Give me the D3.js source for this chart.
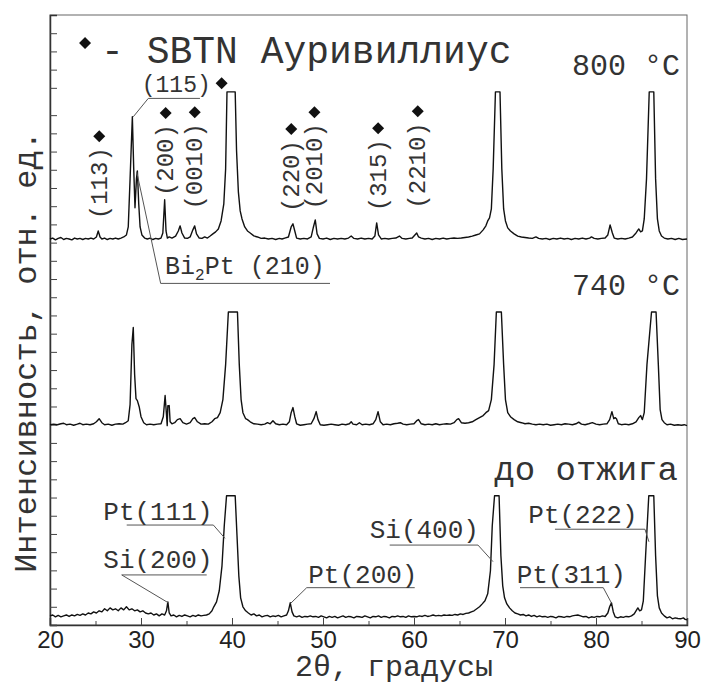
<!DOCTYPE html>
<html>
<head>
<meta charset="utf-8">
<title>XRD SBTN</title>
<script src="https://d3js.org/d3.v7.min.js"></script>
<style>
  body { margin: 0; background: #fff; }
  svg text { font-family: "Liberation Mono", "DejaVu Sans Mono", monospace; fill: #333; }
  svg .tick-label { font-family: "Liberation Sans", Arial, sans-serif; }
</style>
</head>
<body>
<svg width="706" height="684"></svg>
<script>
// ---- data (2θ in degrees, intensity in arbitrary units, relative to each curve's own baseline)
var thetaMajor = [20, 30, 40, 50, 60, 70, 80, 90];
var thetaMinor = [25, 35, 45, 55, 65, 75, 85];
var intensityTicks = d3.range(0, 2801, 100).concat([2950, 3050, 3150, 3250]);

var curveOffsets = [50, 1100, 2120];   // as-deposited, 740 °C, 800 °C

var asDeposited = [[20.0,0],[20.3,5],[20.6,-5],[20.9,3],[21.2,-5],[21.5,0],[21.8,5],[22.1,-3],[22.4,5],[22.7,0],[23.0,8],[23.3,3],[23.6,11],[23.9,5],[24.2,16],[24.5,11],[24.8,22],[25.1,16],[25.4,28],[25.7,22],[26.0,39],[26.3,28],[26.6,44],[26.9,33],[27.2,39],[27.5,28],[27.8,44],[28.1,33],[28.4,50],[28.7,33],[29.0,39],[29.3,28],[29.6,33],[29.9,22],[30.2,28],[30.5,16],[30.8,11],[31.1,16],[31.4,5],[31.7,11],[32.0,0],[32.3,11],[32.6,5],[32.8,28],[32.95,77],[33.1,16],[33.3,0],[33.6,5],[33.9,-5],[34.2,3],[34.5,-3],[34.8,5],[35.1,0],[35.4,-5],[35.7,3],[36.0,-3],[36.3,5],[36.6,0],[36.9,3],[37.2,5],[37.5,11],[37.8,28],[38.0,50],[38.3,77],[38.6,138],[38.9,275],[39.15,495],[39.4,660],[40.35,660],[40.55,440],[40.75,220],[40.95,99],[41.2,50],[41.5,28],[41.8,16],[42.1,5],[42.4,11],[42.7,0],[43.0,5],[43.3,-5],[43.6,0],[43.9,3],[44.2,-5],[44.5,0],[44.8,-3],[45.1,3],[45.4,-5],[45.7,0],[46.0,5],[46.2,28],[46.4,72],[46.6,22],[46.8,0],[47.1,-5],[47.4,0],[47.7,-8],[48.0,-3],[48.3,-5],[48.6,0],[48.9,-5],[49.2,-3],[49.5,-8],[49.8,0],[50.1,-5],[50.4,-11],[50.7,-3],[51.0,-8],[51.3,-3],[51.6,-11],[51.9,-5],[52.2,0],[52.5,-8],[52.8,-3],[53.1,-5],[53.4,-11],[53.7,-3],[54.0,-5],[54.3,-8],[54.6,0],[54.9,-5],[55.2,-11],[55.5,-3],[55.8,-5],[56.1,0],[56.4,-8],[56.7,-3],[57.0,-5],[57.3,-11],[57.6,-3],[57.9,-5],[58.2,0],[58.5,-5],[58.8,-3],[59.1,-8],[59.4,0],[59.7,-5],[60.0,-3],[60.3,-5],[60.6,0],[60.9,-3],[61.2,3],[61.5,-3],[61.8,0],[62.1,5],[62.4,0],[62.7,3],[63.0,0],[63.3,5],[63.6,3],[63.9,5],[64.2,3],[64.5,8],[64.8,5],[65.1,11],[65.4,8],[65.7,14],[66.0,16],[66.3,22],[66.6,28],[66.9,39],[67.2,50],[67.5,66],[67.8,83],[68.1,121],[68.4,248],[68.6,495],[68.85,660],[69.35,660],[69.55,330],[69.75,165],[69.95,99],[70.2,66],[70.5,44],[70.8,28],[71.1,16],[71.4,11],[71.7,5],[72.0,8],[72.3,0],[72.6,5],[72.9,-3],[73.2,3],[73.5,-5],[73.8,0],[74.1,-5],[74.4,-3],[74.7,-8],[75.0,-3],[75.3,-5],[75.6,-11],[75.9,-3],[76.2,-5],[76.5,-8],[76.8,-3],[77.1,-5],[77.4,0],[77.7,3],[78.0,5],[78.3,0],[78.6,-5],[78.9,-3],[79.2,-11],[79.5,-5],[79.8,-8],[80.1,-3],[80.4,-5],[80.7,0],[81.0,-3],[81.3,16],[81.5,50],[81.7,72],[81.9,22],[82.1,-5],[82.4,-11],[82.7,-5],[83.0,-8],[83.3,-3],[83.6,-5],[83.9,0],[84.2,11],[84.4,28],[84.6,44],[84.8,28],[85.0,33],[85.2,83],[85.45,330],[85.8,660],[86.35,660],[86.55,330],[86.75,110],[86.95,44],[87.2,16],[87.5,0],[87.8,-11],[88.1,-5],[88.4,-16],[88.7,-11],[89.0,-14],[89.3,-16],[89.6,-11],[89.8,-19],[90.0,-22]];

var annealed740 = [[20.0,0],[20.4,3],[20.8,0],[21.2,5],[21.5,8],[21.8,0],[22.2,3],[22.6,-3],[23.0,3],[23.3,8],[23.6,0],[24.0,3],[24.4,0],[24.8,5],[25.1,16],[25.4,33],[25.7,11],[26.0,0],[26.4,3],[26.8,-3],[27.2,3],[27.6,5],[28.0,3],[28.3,11],[28.6,22],[28.8,110],[29.0,440],[29.15,534],[29.3,275],[29.45,143],[29.6,132],[29.8,99],[30.0,44],[30.3,11],[30.6,0],[31.0,3],[31.4,0],[31.8,3],[32.2,5],[32.45,44],[32.65,160],[32.8,55],[32.88,-5],[32.95,105],[33.05,100],[33.1,105],[33.2,16],[33.4,5],[33.7,11],[34.0,28],[34.3,33],[34.6,11],[35.0,3],[35.4,11],[35.7,33],[35.9,39],[36.2,16],[36.6,3],[37.0,5],[37.4,3],[37.8,16],[38.1,33],[38.4,39],[38.7,66],[39.0,138],[39.3,330],[39.6,619],[40.6,619],[40.8,330],[41.0,138],[41.2,66],[41.5,33],[41.7,28],[42.0,16],[42.4,5],[42.8,3],[43.2,0],[43.6,3],[43.9,11],[44.2,5],[44.5,22],[44.8,5],[45.2,0],[45.6,3],[46.0,0],[46.3,16],[46.5,66],[46.7,94],[46.9,44],[47.1,5],[47.5,-3],[47.9,0],[48.3,3],[48.7,5],[49.0,33],[49.25,72],[49.45,28],[49.7,0],[50.1,-3],[50.5,0],[50.9,3],[51.3,0],[51.7,-3],[52.1,3],[52.5,0],[52.9,5],[53.1,16],[53.3,3],[53.7,0],[54.0,11],[54.3,0],[54.7,3],[55.1,0],[55.5,5],[55.8,28],[56.05,72],[56.3,16],[56.6,0],[57.0,3],[57.4,0],[57.8,5],[58.2,8],[58.5,11],[58.8,3],[59.2,0],[59.6,3],[60.0,5],[60.3,22],[60.5,28],[60.8,5],[61.2,0],[61.6,3],[62.0,0],[62.4,5],[62.8,0],[63.2,3],[63.6,5],[64.0,3],[64.4,11],[64.7,28],[64.9,33],[65.2,11],[65.6,8],[66.0,11],[66.4,16],[66.8,28],[67.2,39],[67.6,50],[67.9,66],[68.2,77],[68.5,138],[68.8,330],[69.05,619],[69.6,619],[69.85,330],[70.05,138],[70.3,66],[70.6,44],[71.0,28],[71.4,16],[71.8,11],[72.2,5],[72.6,8],[73.0,3],[73.4,0],[73.8,3],[74.2,0],[74.6,3],[75.0,-3],[75.4,0],[75.8,3],[76.2,0],[76.6,5],[77.0,3],[77.4,0],[77.8,5],[78.1,14],[78.4,3],[78.8,0],[79.2,5],[79.6,11],[80.0,3],[80.4,0],[80.8,3],[81.2,5],[81.5,28],[81.75,72],[81.95,33],[82.1,39],[82.25,33],[82.45,5],[82.8,0],[83.2,3],[83.6,0],[84.0,5],[84.4,16],[84.7,39],[84.9,50],[85.1,28],[85.3,66],[85.6,330],[86.1,619],[86.6,619],[86.85,330],[87.05,83],[87.25,28],[87.5,11],[87.8,0],[88.2,3],[88.6,-3],[89.0,0],[89.4,-3],[89.7,0],[90.0,-5]];

var annealed800 = [[20.0,0],[20.3,5],[20.6,-5],[20.9,3],[21.2,8],[21.5,-3],[21.8,3],[22.1,0],[22.4,-5],[22.7,5],[23.0,0],[23.3,3],[23.6,-3],[23.9,3],[24.2,0],[24.5,5],[24.8,0],[25.1,11],[25.3,44],[25.5,11],[25.7,0],[26.0,5],[26.3,-3],[26.6,3],[26.9,0],[27.2,5],[27.5,0],[27.8,5],[28.1,11],[28.4,22],[28.6,66],[28.8,330],[29.05,671],[29.2,385],[29.34,171],[29.5,330],[29.6,374],[29.75,193],[29.9,66],[30.1,22],[30.4,5],[30.7,0],[31.0,5],[31.3,-3],[31.6,3],[31.9,0],[32.2,5],[32.4,33],[32.6,215],[32.75,44],[32.9,5],[33.1,11],[33.4,5],[33.8,16],[34.1,44],[34.3,72],[34.5,33],[34.8,5],[35.1,3],[35.4,11],[35.7,50],[35.9,72],[36.1,28],[36.4,5],[36.7,3],[37.0,11],[37.3,5],[37.6,16],[37.9,28],[38.2,39],[38.5,55],[38.8,99],[39.1,193],[39.3,385],[39.45,808],[40.35,808],[40.5,484],[40.7,259],[40.9,154],[41.1,110],[41.4,66],[41.7,44],[42.0,33],[42.4,17],[42.8,11],[43.2,3],[43.6,5],[44.0,0],[44.4,3],[44.8,-3],[45.2,3],[45.5,0],[45.8,5],[46.2,11],[46.5,66],[46.7,83],[46.9,44],[47.1,5],[47.5,0],[47.9,3],[48.3,0],[48.7,11],[48.95,66],[49.15,105],[49.35,28],[49.6,3],[50.0,0],[50.4,5],[50.8,-3],[51.2,3],[51.6,0],[52.0,3],[52.4,0],[52.8,5],[53.1,16],[53.4,3],[53.8,0],[54.2,5],[54.6,0],[55.0,3],[55.4,0],[55.7,16],[55.9,88],[56.1,22],[56.4,0],[56.8,3],[57.2,0],[57.6,3],[58.0,5],[58.4,16],[58.7,3],[59.1,0],[59.5,3],[59.8,5],[60.1,22],[60.3,33],[60.5,11],[60.8,5],[61.2,0],[61.6,3],[62.0,-3],[62.4,3],[62.8,0],[63.2,5],[63.6,0],[64.0,3],[64.4,5],[64.8,3],[65.2,5],[65.6,8],[66.0,11],[66.4,16],[66.8,22],[67.2,28],[67.6,50],[67.9,72],[68.1,99],[68.3,116],[68.5,165],[68.7,385],[68.95,808],[69.45,808],[69.65,385],[69.85,165],[70.05,99],[70.3,61],[70.6,44],[71.0,28],[71.4,16],[71.8,11],[72.2,8],[72.6,5],[73.0,3],[73.4,11],[73.7,3],[74.1,0],[74.5,3],[74.9,-3],[75.3,3],[75.7,0],[76.1,5],[76.5,0],[76.9,3],[77.3,-3],[77.7,3],[78.1,0],[78.5,5],[78.9,0],[79.3,5],[79.5,11],[79.8,3],[80.2,0],[80.6,3],[81.0,5],[81.3,22],[81.55,77],[81.8,33],[82.0,5],[82.4,0],[82.8,3],[83.2,0],[83.6,5],[84.0,11],[84.4,33],[84.7,55],[84.9,39],[85.1,44],[85.3,110],[85.55,330],[85.85,808],[86.35,808],[86.55,330],[86.75,110],[86.95,44],[87.2,16],[87.5,5],[87.9,0],[88.3,3],[88.7,-3],[89.1,3],[89.5,-3],[90.0,0]];

var curves = [asDeposited, annealed740, annealed800];

// SBTN (Aurivillius) reflections on the 800 °C pattern: label, 2θ, intensity where label ends
var sbtnNames  = ["(113)", "(200)", "(0010)", "(220)", "(2010)", "(315)", "(2210)"];
var sbtnTheta  = [25.3, 32.6, 35.8, 46.4, 48.95, 55.95, 60.3];
var sbtnLevel  = [2624, 2751, 2756, 2663, 2756, 2668, 2761];

// callouts with leader lines, [2θ, intensity]
var callouts = [
  {text: "(115)", at: [30.08, 2928], line: [[36.48, 2892], [30.80, 2892], [29.15, 2791]], mark: [38.86, 2975]},
  {text: "Pt(111)", at: [25.86, 576], line: [[28.43, 549], [37.95, 549], [39.23, 476]]},
  {text: "Si(200)", at: [25.86, 311], line: [[37.22, 275], [27.88, 275], [33.0, 122]]},
  {text: "Pt(200)", at: [48.38, 229], line: [[60.08, 205], [48.21, 205], [46.45, 119]]},
  {text: "Si(400)", at: [55.13, 476], line: [[57.33, 439], [67.03, 439], [68.68, 348]]},
  {text: "Pt(311)", at: [71.28, 229], line: [[71.65, 205], [80.80, 205], [81.72, 119]]},
  {text: "Pt(222)", at: [72.56, 558], line: [[75.49, 526], [85.38, 526], [85.82, 457]]}
];
var bi2ptLine = [[29.53, 2489], [32.16, 1876], [50.77, 1876]];
var bi2ptAt = [32.64, 1927];

var curveTitles = [
  {text: "до отжига", at: [89.01, 796]},
  {text: "740 °C", at: [89.23, 1812]},
  {text: "800 °C", at: [89.23, 3020]}
];
var legendAt = [23.85, 3196];

// ---- drawing
var svg = d3.select("svg");
var margin = {left: 50, right: 19, top: 15, bottom: 59};
var W = +svg.attr("width"), H = +svg.attr("height");

var x = d3.scaleLinear().domain([20, 90]).range([margin.left, W - margin.right]);
var y = d3.scaleLinear().domain([0, 3350]).range([H - margin.bottom, margin.top]);

// frame
svg.append("rect")
  .attr("x", x(20)).attr("y", y(3350))
  .attr("width", x(90) - x(20)).attr("height", y(0) - y(3350))
  .style("fill", "none").style("stroke", "#666").style("stroke-width", 1);

// x axis, ticks pointing inwards
var xAxis = svg.append("g").attr("transform", "translate(0," + y(0) + ")")
  .call(d3.axisBottom(x).tickValues(thetaMajor).tickSize(-7).tickPadding(6).tickFormat(d3.format("d")));
xAxis.select(".domain").style("stroke", "#333").style("stroke-width", 1.5);
xAxis.selectAll(".tick line").style("stroke", "#444");
xAxis.selectAll(".tick text").attr("class", "tick-label").style("font-size", "24px").style("fill", "#222");
svg.append("g").attr("transform", "translate(0," + y(0) + ")")
  .call(d3.axisBottom(x).tickValues(thetaMinor).tickSize(-4).tickFormat(""))
  .call(g => g.select(".domain").remove())
  .selectAll(".tick line").style("stroke", "#444");

// y axis, ticks only
var yAxis = svg.append("g").attr("transform", "translate(" + x(20) + ",0)")
  .call(d3.axisLeft(y).tickValues(intensityTicks).tickSize(-7).tickFormat(""));
yAxis.select(".domain").style("stroke", "#333").style("stroke-width", 1.5);
yAxis.selectAll(".tick line").style("stroke", "#444");

// patterns
var line = d3.line().x(d => x(d[0])).y(d => y(d[1]));
curves.forEach(function (c, i) {
  svg.append("path")
    .datum(c.map(d => [d[0], d[1] + curveOffsets[i]]))
    .attr("d", line)
    .style("fill", "none")
    .style("stroke", "#111")
    .style("stroke-width", 1.4)
    .style("stroke-linejoin", "round");
});

var diamond = d3.symbol().type(d3.symbolSquare).size(72);
function addDiamond(px, py) {
  svg.append("path").attr("d", diamond)
    .attr("transform", "translate(" + px + "," + py + ") rotate(45)")
    .style("fill", "#111");
}

// rotated SBTN labels
sbtnNames.forEach(function (name, i) {
  var px = x(sbtnTheta[i]), py = y(sbtnLevel[i]);
  svg.append("text")
    .attr("transform", "translate(" + px + "," + py + ") rotate(-90)")
    .attr("text-anchor", "end")
    .attr("dy", "0.35em")
    .style("font-size", "24px")
    .text(name);
  addDiamond(px + 1, py - 11);
});

// callouts
var leader = d3.line().x(d => x(d[0])).y(d => y(d[1]));
callouts.forEach(function (c, i) {
  svg.append("path").attr("d", leader(c.line))
    .style("fill", "none").style("stroke", "#555").style("stroke-width", 1);
  svg.append("text")
    .attr("x", x(c.at[0])).attr("y", y(c.at[1]))
    .style("font-size", i === 0 ? "23px" : "26px")
    .text(c.text);
  if (c.mark) addDiamond(x(c.mark[0]), y(c.mark[1]));
});

svg.append("path").attr("d", leader(bi2ptLine))
  .style("fill", "none").style("stroke", "#555").style("stroke-width", 1);
var bt = svg.append("text").attr("x", x(bi2ptAt[0])).attr("y", y(bi2ptAt[1])).style("font-size", "25px");
bt.append("tspan").text("Bi");
bt.append("tspan").attr("dy", 6).style("font-size", "16px").text("2");
bt.append("tspan").attr("dy", -6).text("Pt (210)");

// curve titles
curveTitles.forEach(function (t, i) {
  svg.append("text")
    .attr("x", x(t.at[0])).attr("y", y(t.at[1]))
    .attr("text-anchor", "end")
    .style("font-size", i === 0 ? "34px" : "30px")
    .text(t.text);
});

// legend
addDiamond(x(legendAt[0]), y(legendAt[1]));
svg.append("text")
  .attr("x", x(legendAt[0]) + 16).attr("y", y(legendAt[1]) + 20)
  .style("font-size", "38px")
  .text("- SBTN Ауривиллиус");

// axis titles
svg.append("text")
  .attr("x", 295).attr("y", 676)
  .style("font-size", "30px")
  .text("2θ, градусы");

svg.append("text")
  .attr("transform", "translate(36,352) rotate(-90)")
  .attr("text-anchor", "middle")
  .style("font-size", "32px")
  .text("Интенсивность, отн. ед.");
</script>
</body>
</html>
